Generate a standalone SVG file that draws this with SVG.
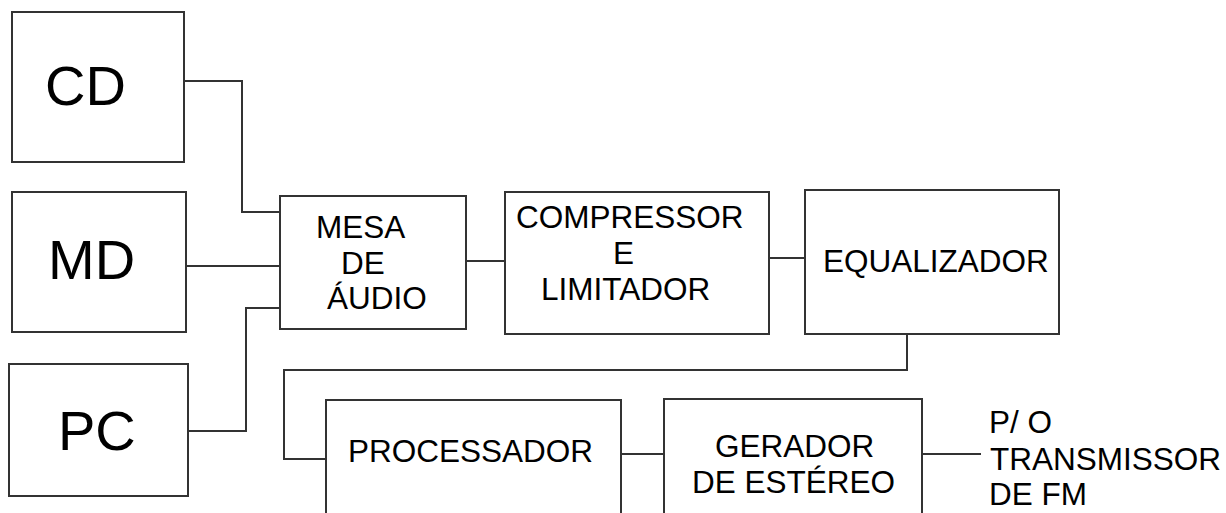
<svg xmlns="http://www.w3.org/2000/svg" width="1226" height="513" viewBox="0 0 1226 513">
<style>
.box{fill:#fff;stroke:#333;stroke-width:2}
.ln{fill:none;stroke:#333;stroke-width:2}
.big{font-family:"Liberation Sans",Arial,sans-serif;font-size:56px;fill:#000}
.t{font-family:"Liberation Sans",Arial,sans-serif;font-size:31.5px;fill:#000}
</style>
<rect width="1226" height="513" fill="#fff"/>
<g id="connectors">
<polyline class="ln" points="184,81 242,81 242,212 280,212"/>
<line class="ln" x1="186" y1="266" x2="280" y2="266"/>
<polyline class="ln" points="188,431 246,431 246,308 280,308"/>
<line class="ln" x1="466" y1="261" x2="505" y2="261"/>
<line class="ln" x1="769" y1="258" x2="805" y2="258"/>
<polyline class="ln" points="907,334 907,370 284,370 284,459 326,459"/>
<line class="ln" x1="621" y1="454" x2="664" y2="454"/>
<line class="ln" x1="922" y1="454" x2="981" y2="454"/>
</g>
<g id="cd"><rect class="box" x="12" y="12" width="172" height="150"/><text class="big" x="45" y="105">CD</text></g>
<g id="md"><rect class="box" x="12" y="192" width="174" height="140"/><text class="big" x="48" y="279">MD</text></g>
<g id="pc"><rect class="box" x="9" y="364" width="179" height="132"/><text class="big" x="58" y="450">PC</text></g>
<g id="mesa"><rect class="box" x="280" y="196" width="186" height="133"/>
<text class="t" x="316" y="238">MESA</text><text class="t" x="341" y="274">DE</text><text class="t" x="327" y="309">ÁUDIO</text></g>
<g id="compressor"><rect class="box" x="505" y="192" width="264" height="142"/>
<text class="t" x="516" y="228">COMPRESSOR</text><text class="t" x="613" y="264">E</text><text class="t" x="541" y="300">LIMITADOR</text></g>
<g id="equalizador"><rect class="box" x="805" y="190" width="254" height="144"/>
<text class="t" x="823" y="272">EQUALIZADOR</text></g>
<g id="processador"><rect class="box" x="326" y="400" width="295" height="130"/>
<text class="t" x="348" y="462">PROCESSADOR</text></g>
<g id="gerador"><rect class="box" x="664" y="399" width="258" height="130"/>
<text class="t" x="715" y="457">GERADOR</text><text class="t" x="692" y="493">DE ESTÉREO</text></g>
<g id="saida">
<text class="t" x="989" y="433">P/ O</text><text class="t" x="990" y="470">TRANSMISSOR</text><text class="t" x="989" y="505">DE FM</text></g>
</svg>
